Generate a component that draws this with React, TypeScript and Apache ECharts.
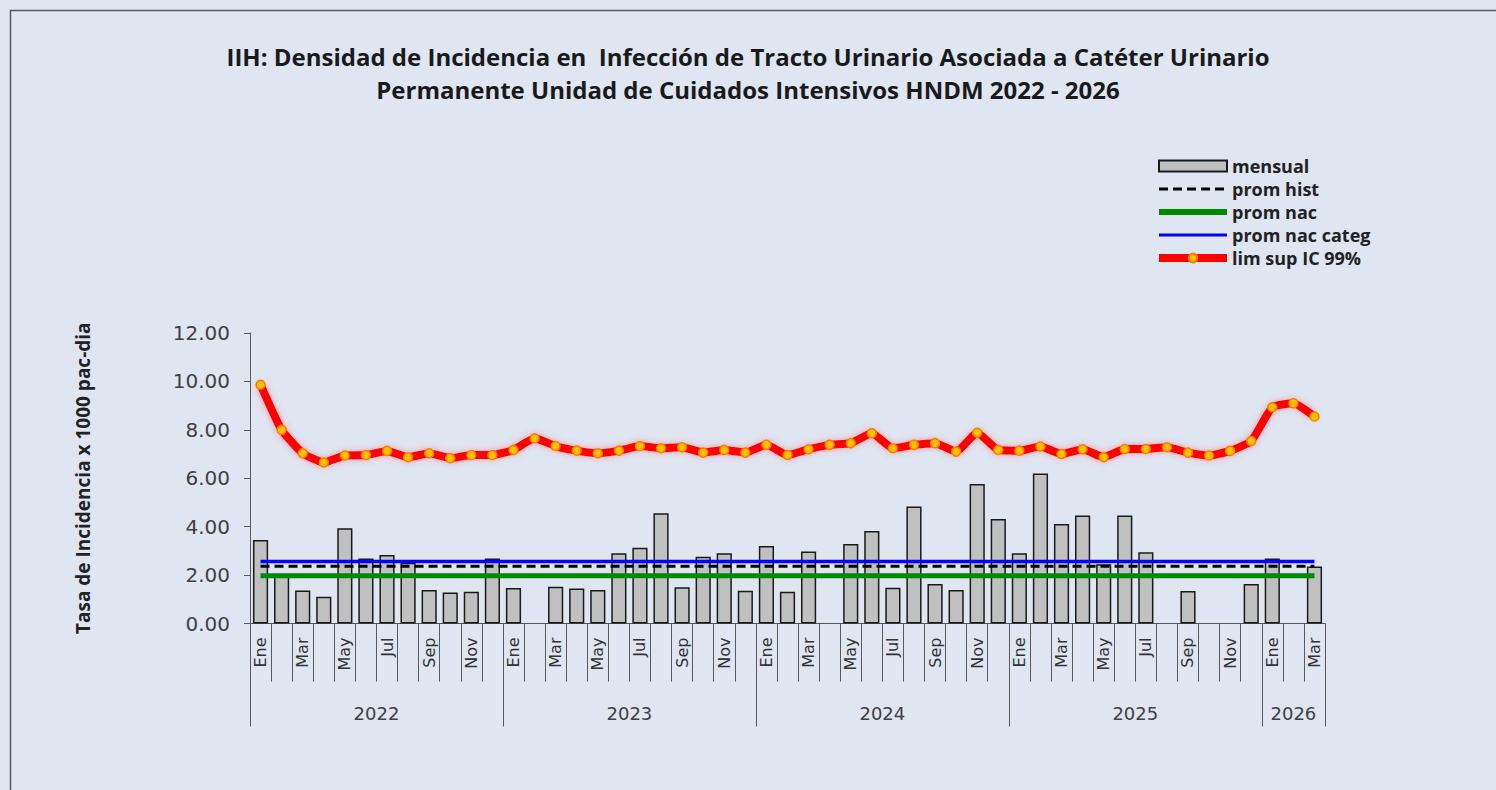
import React, { useEffect, useRef } from "react";
import * as echarts from "echarts";

const monthNames = ["Ene", "Feb", "Mar", "Abr", "May", "Jun", "Jul", "Ago", "Sep", "Oct", "Nov", "Dic"];
const years = ["2022", "2023", "2024", "2025", "2026"];
const monthsPerYear = [12, 12, 12, 12, 3];

const mensual = [
  3.45, 1.98, 1.36, 1.11, 3.93, 2.69, 2.83, 2.51, 1.38, 1.28, 1.31, 2.69,
  1.47, null, 1.52, 1.45, 1.38, 2.9, 3.13, 4.55, 1.5, 2.76, 2.9, 1.35,
  3.2, 1.31, 2.97, null, 3.28, 3.82, 1.48, 4.83, 1.63, 1.38, 5.76, 4.32,
  2.9, 6.2, 4.11, 4.46, 2.45, 4.46, 2.94, null, 1.34, null, null, 1.63,
  2.69, null, 2.35,
];

const limSup = [
  9.86, 8.0, 7.03, 6.65, 6.94, 6.96, 7.13, 6.87, 7.03, 6.83, 6.96, 6.96,
  7.17, 7.65, 7.33, 7.14, 7.03, 7.14, 7.33, 7.24, 7.28, 7.06, 7.17, 7.06,
  7.38, 6.96, 7.2, 7.38, 7.45, 7.86, 7.24, 7.38, 7.45, 7.1, 7.88, 7.17,
  7.14, 7.31, 7.0, 7.2, 6.87, 7.21, 7.21, 7.28, 7.06, 6.94, 7.13, 7.54,
  8.93, 9.1, 8.55,
];

const promHistValue = 2.36;
const promNacValue = 1.97;
const promNacCategValue = 2.56;

const yTicks = { min: 0, max: 12, interval: 2 };

export default function App() {
  const ref = useRef<HTMLDivElement>(null);

  useEffect(() => {
    if (!ref.current) return;
    const chart = echarts.init(ref.current, null, { renderer: "svg" });

    const monthCats: string[] = [];
    years.forEach((y, yi) => {
      for (let m = 0; m < monthsPerYear[yi]; m++) monthCats.push(monthNames[m] + " " + y);
    });
    const n = monthCats.length;

    const yearCats: string[] = new Array(2 * n + 1).fill("");
    const yearBoundaries: number[] = [0];
    const yearLabelIdx: number[] = [];
    let start = 0;
    years.forEach((y, yi) => {
      const c = monthsPerYear[yi];
      const idx = 2 * start + c;
      yearCats[idx] = y;
      yearLabelIdx.push(idx);
      start += c;
      yearBoundaries.push(2 * start);
    });

    const promHist = new Array(n).fill(promHistValue);
    const promNac = new Array(n).fill(promNacValue);
    const promNacCateg = new Array(n).fill(promNacCategValue);

    const titleFont = "'Open Sans', sans-serif";
    const axisFont = "'DejaVu Sans', sans-serif";
    const noMarker = { color: "rgba(0,0,0,0)", borderWidth: 0, borderColor: "rgba(0,0,0,0)" };

    chart.setOption({
      animation: false,
      backgroundColor: "#dfe5f1",
      textStyle: { fontFamily: titleFont },
      title: {
        text: "IIH: Densidad de Incidencia en  Infección de Tracto Urinario Asociada a Catéter Urinario\nPermanente Unidad de Cuidados Intensivos HNDM 2022 - 2026",
        left: "center",
        top: 35,
        textStyle: { fontFamily: titleFont, fontSize: 24, fontWeight: "bold", color: "#1a1a1a", lineHeight: 33, align: "center" },
      },
      legend: {
        orient: "vertical",
        left: 1155,
        top: 157,
        padding: 0,
        itemWidth: 68,
        itemHeight: 11,
        itemGap: 5,
        textStyle: { fontFamily: titleFont, fontSize: 18, fontWeight: "bold", color: "#222" },
        data: [
          { name: "mensual", icon: "rect" },
          { name: "prom hist", itemStyle: noMarker, lineStyle: { width: 3 } },
          { name: "prom nac", itemStyle: noMarker, lineStyle: { width: 6 } },
          { name: "prom nac categ", itemStyle: noMarker, lineStyle: { width: 3 } },
          { name: "lim sup IC 99%", lineStyle: { width: 8 } },
        ],
      },
      grid: { left: 250, right: 171, top: 333, bottom: 166.5, containLabel: false },
      xAxis: [
        {
          type: "category",
          data: monthCats,
          position: "bottom",
          boundaryGap: true,
          axisLine: { show: true, lineStyle: { color: "#595959", width: 1 } },
          axisTick: { show: true, interval: 0, length: 58, lineStyle: { color: "#595959", width: 1 } },
          axisLabel: {
            interval: 1,
            rotate: 90,
            margin: 14,
            fontSize: 16,
            color: "#333",
            fontFamily: axisFont,
            formatter: (v: string) => v.split(" ")[0],
          },
        },
        {
          type: "category",
          data: yearCats,
          position: "bottom",
          offset: 0,
          boundaryGap: false,
          axisLine: { show: false },
          axisTick: {
            show: true,
            length: 103,
            interval: (i: number) => yearBoundaries.includes(i),
            lineStyle: { color: "#595959", width: 1 },
          },
          axisLabel: {
            interval: (i: number) => yearLabelIdx.includes(i),
            margin: 81,
            fontSize: 18,
            color: "#404040",
            fontFamily: axisFont,
          },
        },
      ],
      yAxis: {
        type: "value",
        min: yTicks.min,
        max: yTicks.max,
        interval: yTicks.interval,
        name: "Tasa de Incidencia x 1000 pac-dia",
        nameLocation: "middle",
        nameGap: 158,
        nameRotate: 90,
        nameTextStyle: { fontFamily: titleFont, fontSize: 19, fontWeight: "bold", color: "#222" },
        axisLine: { show: true, lineStyle: { color: "#595959", width: 1 } },
        axisTick: { show: true, length: 6, lineStyle: { color: "#595959" } },
        splitLine: { show: false },
        axisLabel: {
          margin: 20,
          fontSize: 20,
          color: "#404040",
          fontFamily: axisFont,
          formatter: (v: number) => v.toFixed(2),
        },
      },
      graphic: [
        {
          type: "rect",
          shape: { x: 10.5, y: 10.5, width: 1600, height: 900 },
          style: { fill: "none", stroke: "#595959", lineWidth: 1.5 },
          silent: true,
        },
      ],
      series: [
        {
          name: "mensual",
          type: "bar",
          data: mensual,
          barCategoryGap: "28%",
          itemStyle: { color: "#c0c0c0", borderColor: "#1a1a1a", borderWidth: 1.5 },
          z: 1,
        },
        {
          name: "prom hist",
          type: "line",
          data: promHist,
          symbol: "none",
          lineStyle: { color: "#000", width: 3, type: [9, 5] },
          itemStyle: { color: "#000" },
          z: 3,
        },
        {
          name: "prom nac",
          type: "line",
          data: promNac,
          symbol: "none",
          lineStyle: { color: "#008a00", width: 5 },
          itemStyle: { color: "#008a00" },
          z: 3,
        },
        {
          name: "prom nac categ",
          type: "line",
          data: promNacCateg,
          symbol: "none",
          lineStyle: { color: "#0000ff", width: 3.5 },
          itemStyle: { color: "#0000ff" },
          z: 3,
        },
        {
          name: "lim sup IC 99%",
          type: "line",
          data: limSup,
          smooth: 0.15,
          symbol: "circle",
          symbolSize: 9,
          lineStyle: {
            color: "#ff0000",
            width: 8,
            shadowColor: "rgba(255,90,90,0.55)",
            shadowBlur: 6,
          },
          itemStyle: { color: "#ffc000", borderColor: "#ff7a00", borderWidth: 1.5 },
          z: 4,
        },
      ],
    });

    return () => chart.dispose();
  }, []);

  return (
    <div
      ref={ref}
      style={{ position: "fixed", left: 0, top: 0, width: 1496, height: 790 }}
    />
  );
}
